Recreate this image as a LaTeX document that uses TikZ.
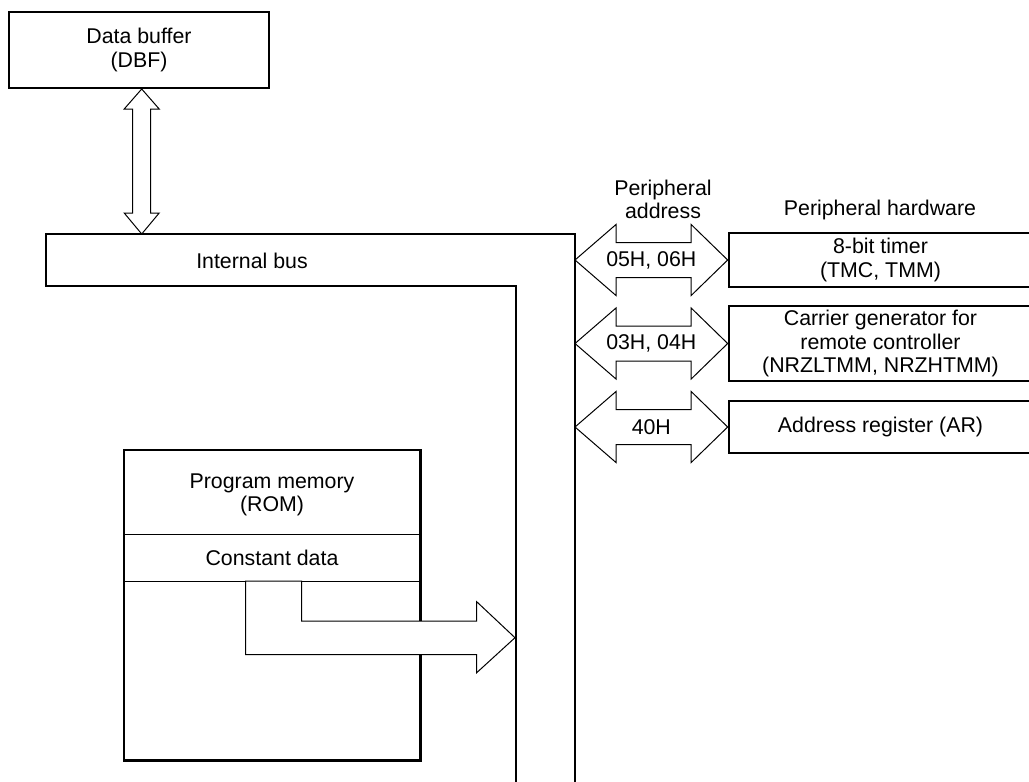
\documentclass[tikz,border=0pt]{standalone}
\usepackage{fontspec}
\setmainfont{Liberation Sans}
\usetikzlibrary{calc}
\begin{document}
\begin{tikzpicture}[x=0.75pt,y=-0.75pt,
  thickline/.style={line width=2pt},
  thinline/.style={line width=0.75pt},
  blockarrow/.style={thinline, draw=black, fill=white, line join=miter},
  txt/.style={inner sep=0pt, align=center, font=\fontsize{16pt}{17.3pt}\selectfont},
  hwbox/.style={txt, draw, thickline, fill=white, minimum width=227.25pt}]
\useasboundingbox (0,0) rectangle (1029,782);

% Data buffer
\node[txt, draw, thickline, minimum width=195pt, minimum height=57pt] (dbf) at (139,50) {Data buffer\\(DBF)};

% Internal bus
\draw[thickline, line join=miter] (516,790) -- (516,286) -- (46,286) -- (46,234) -- (575,234) -- (575,790);
\coordinate (bustop) at (141.7,234);
\coordinate (dbfbot) at (141.7,89);
\node[txt] (bus) at (252,261) {Internal bus};

% DBF <-> bus arrow
\draw[blockarrow] (dbfbot) -- ++(17.5,20) -- ++(-8.5,0) -- ($(bustop)+(9,-21)$) -- ++(8.5,0) -- (bustop) -- ++(-17.5,-21) -- ++(8.5,0) -- ($(dbfbot)+(-9,20)$) -- ++(-8.5,0) -- cycle;

% Labels
\node[txt] (paddr) at (663,199) {Peripheral\\address};
\node[txt] (phw) at (880,210) {Peripheral hardware};

% Peripheral hardware boxes
\node[hwbox, minimum height=40.5pt] (tm) at (880.5,260) {8-bit timer\\(TMC, TMM)};
\node[hwbox, minimum height=56.25pt] (cg) at (880.5,343.5) {Carrier generator for\\remote controller\\(NRZLTMM, NRZHTMM)};
\node[hwbox, minimum height=39pt] (ar) at (880.5,427) {Address register (AR)};

\coordinate (b1) at (575,260);
\coordinate (b2) at (575,343.5);
\coordinate (b3) at (575,427);

\newcommand\dblblock[2]{%
  \draw[blockarrow] (#1) -- ++(41,-35.5) -- ++(0,18) -- ($(#2.west)+(-36.5,-17.5)$) -- ++(0,-18) -- (#2.west)
    -- ++(-36.5,35.5) -- ++(0,-18) -- ($(#1)+(41,17.5)$) -- ++(0,18) -- cycle;}
\dblblock{b1}{tm}
\dblblock{b2}{cg}
\dblblock{b3}{ar}
\node[txt] (a1) at ($(b1)!0.5!(tm.west)$) {05H, 06H};
\node[txt] (a2) at ($(b2)!0.5!(cg.west)$) {03H, 04H};
\node[txt] (a3) at ($(b3)!0.5!(ar.west)$) {40H};

% Program memory
\node[draw, thickline, fill=white, minimum width=222.5pt, minimum height=233pt, inner sep=0pt] (rom) at (272.35,605.35) {};
\draw[thinline] (124,534) -- (420.7,534);
\draw[thinline] (124,581) -- (420.7,581);
\node[txt] (romtxt) at (272,495) {Program memory\\(ROM)};
\node[txt] (const) at (272,558) {Constant data};

% Constant data -> bus arrow
\coordinate (ctip) at (515,637.7);
\draw[blockarrow] (245.7,581) -- (301.7,581) -- (301.7,621) -- (476.7,621) -- (476.7,601.7) -- (ctip)
  -- (476.7,672.7) -- (476.7,654.7) -- (245.7,654.7) -- cycle;
\end{tikzpicture}
\end{document}
